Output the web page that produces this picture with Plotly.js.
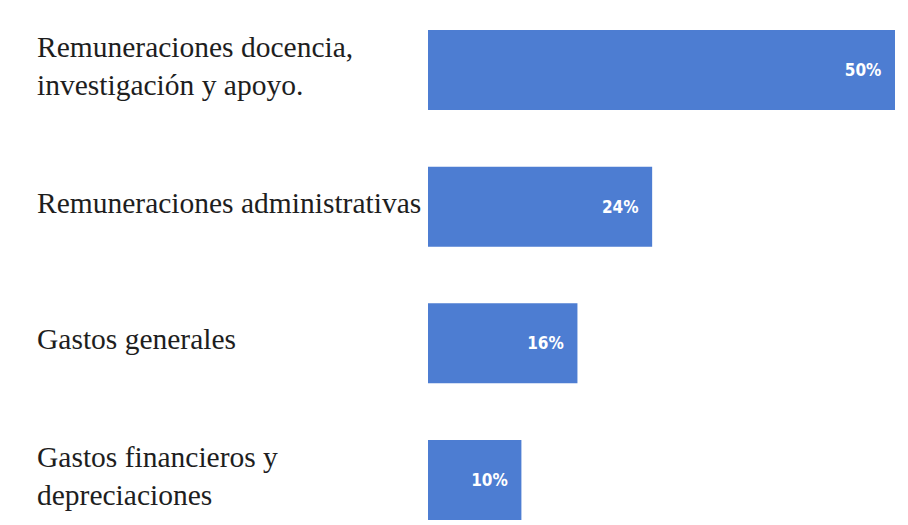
<!DOCTYPE html>
<html>
<head>
<meta charset="utf-8">
<script src="https://cdn.plot.ly/plotly-3.0.1.min.js"></script>
<style>
  html, body { margin: 0; padding: 0; background: #ffffff; }
  #chart { width: 908px; height: 525px; }
</style>
</head>
<body>
<div id="chart"></div>
<script>
const categories = [
  "Remuneraciones docencia,<br>investigación y apoyo.",
  "Remuneraciones administrativas",
  "Gastos generales",
  "Gastos financieros y<br>depreciaciones"
];
const values = [50, 24, 16, 10];

const pxPerUnit = 467 / 50;           // bar scale
const x0Pixel = 428;                   // where value 0 sits
const labelPixel = 35;                 // left edge of category labels
const xMin = -x0Pixel / pxPerUnit;
const xMax = 50 + 13 / pxPerUnit;

const trace = {
  type: 'bar',
  orientation: 'h',
  x: values,
  y: categories.map((c, i) => i),
  marker: { color: '#4D7DD2' },
  texttemplate: '%{x}%\u00a0\u00a0',
  textposition: 'inside',
  insidetextanchor: 'end',
  textangle: 0,
  insidetextfont: { family: 'DejaVu Sans Condensed, Liberation Sans Narrow, Arial Narrow, sans-serif', size: 17, color: '#ffffff', weight: 'bold' },
  hoverinfo: 'none',
  cliponaxis: false
};

const annotations = categories.map((c, i) => ({
  xref: 'x', yref: 'y',
  x: (labelPixel - x0Pixel) / pxPerUnit,
  y: i,
  text: c,
  showarrow: false,
  xanchor: 'left',
  yanchor: 'middle',
  align: 'left',
  yshift: 4,
  font: { family: 'Liberation Serif, Times New Roman, serif', size: 29.5, color: '#1e1e1e' }
}));

const layout = {
  width: 908,
  height: 525,
  margin: { l: 0, r: 0, t: 0, b: 0 },
  paper_bgcolor: '#ffffff',
  plot_bgcolor: '#ffffff',
  showlegend: false,
  bargap: 0.415,
  xaxis: { range: [xMin, xMax], visible: false, fixedrange: true },
  yaxis: { range: [3.329, -0.512], visible: false, fixedrange: true },
  annotations: annotations
};

Plotly.newPlot('chart', [trace], layout, { displayModeBar: false, staticPlot: true });
</script>
</body>
</html>
